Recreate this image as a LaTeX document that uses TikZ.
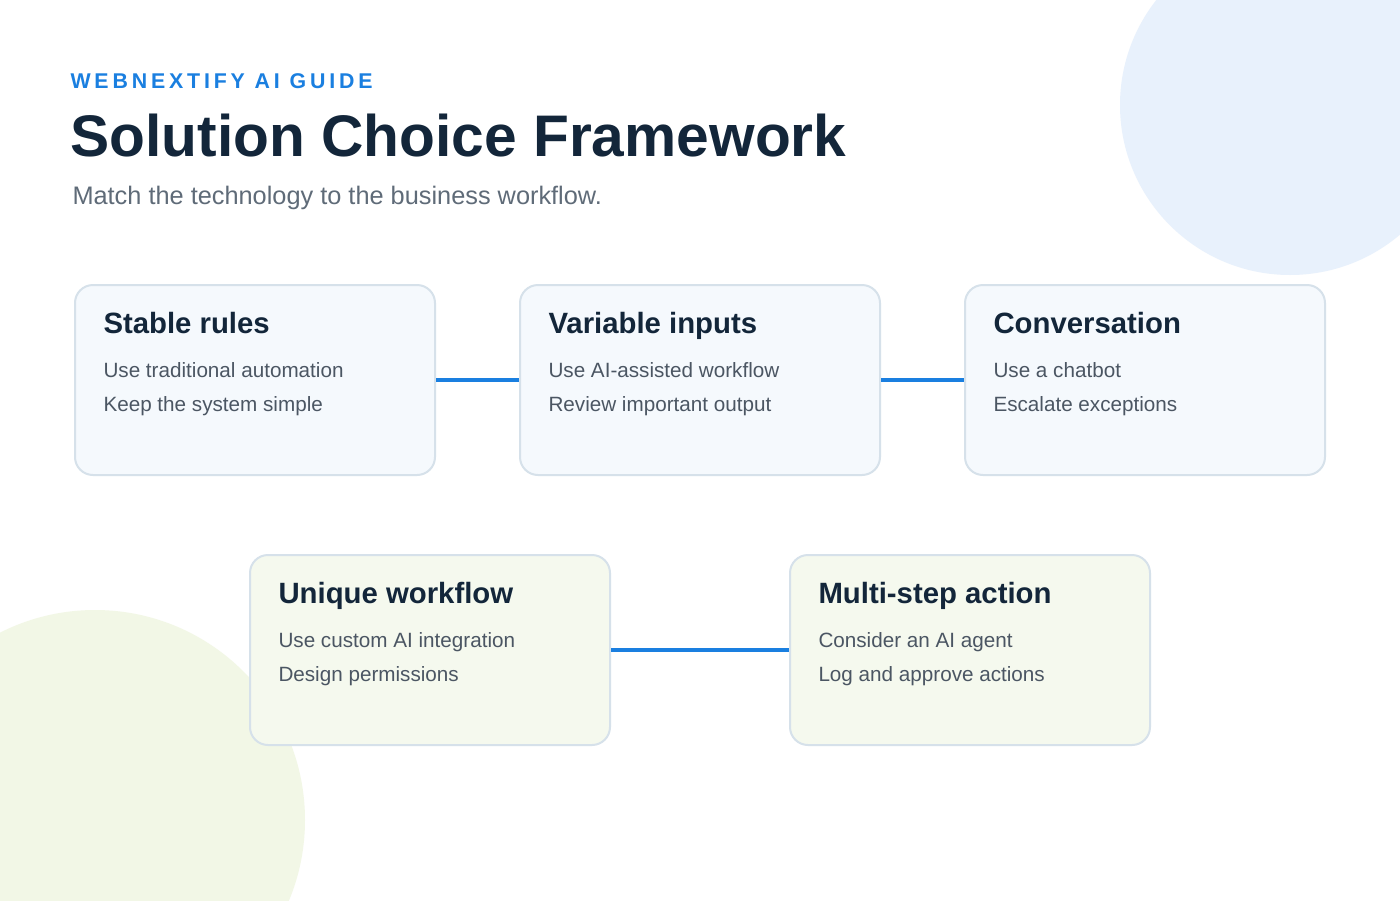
\documentclass[tikz,border=0pt]{standalone}
\usepackage{fontspec}
\setmainfont{Liberation Sans}
\definecolor{inkdark}{HTML}{13263A}
\definecolor{inkgray}{HTML}{4B5663}
\definecolor{subgray}{HTML}{5F6B78}
\definecolor{accent}{HTML}{1A7FE0}
\definecolor{bluefill}{HTML}{F5F9FD}
\definecolor{greenfill}{HTML}{F5F9EE}
\definecolor{boxline}{HTML}{D6E1EA}
\definecolor{blobblue}{HTML}{E8F1FC}
\definecolor{blobgreen}{HTML}{F2F7E6}
\tikzset{every picture/.style={line width=0.75pt}}
\tikzset{
  card/.style={draw=boxline, line width=1.5pt, rounded corners=13.5pt,
    minimum width=270pt, minimum height=142.5pt, inner sep=0pt},
  cardtitle/.style={anchor=base west, inner sep=0pt, text=inkdark,
    font=\fontsize{22}{26}\selectfont\bfseries},
  cardtext/.style={anchor=base west, inner sep=0pt, text=inkgray,
    font=\fontsize{15.5}{18}\selectfont},
  link/.style={draw=accent, line width=3pt}
}
\begin{document}
\begin{tikzpicture}[x=0.75pt,y=0.75pt,yscale=-1,xscale=1]
\useasboundingbox (0,0) rectangle (1400,900);
\fill[white] (0,0) rectangle (1400,900);

%Background blobs
\begin{scope}
\clip (0,0) rectangle (1400,900);
\fill[blobblue] (1290,105) circle (170);
\fill[blobgreen] (95,820) circle (210);
\end{scope}

% Heading
\node[anchor=base west, inner sep=0pt, text=accent] (kicker) at (70,88)
  {\fontsize{16}{19}\selectfont\bfseries\addfontfeature{LetterSpace=18}WEBNEXTIFY AI GUIDE};
\node[anchor=base west, inner sep=0pt, text=inkdark] (title) at (70,156)
  {\fontsize{44}{50}\selectfont\bfseries Solution Choice Framework};
\node[anchor=base west, inner sep=0pt, text=subgray] (subtitle) at (72,204)
  {\fontsize{19}{22}\selectfont Match the technology to the business workflow.};

% Cards
\node[card, fill=bluefill]  (stable)  at (255,380) {};
\node[card, fill=bluefill]  (variable) at (700,380) {};
\node[card, fill=bluefill]  (convo)   at (1145,380) {};
\node[card, fill=greenfill] (unique)  at (430,650) {};
\node[card, fill=greenfill] (multi)   at (970,650) {};

% Connectors
\draw[link] (stable.east) -- (variable.west);
\draw[link] (variable.east) -- (convo.west);
\draw[link] (unique.east) -- (multi.west);

% Card texts
\node[cardtitle] (stableT) at (103,333) {Stable rules};
\node[cardtext]  (stableA) at (103,377) {Use traditional automation};
\node[cardtext]  (stableB) at (103,411) {Keep the system simple};
\node[cardtitle] (variableT) at (548,333) {Variable inputs};
\node[cardtext]  (variableA) at (548,377) {Use AI-assisted workflow};
\node[cardtext]  (variableB) at (548,411) {Review important output};
\node[cardtitle] (convoT) at (993,333) {Conversation};
\node[cardtext]  (convoA) at (993,377) {Use a chatbot};
\node[cardtext]  (convoB) at (993,411) {Escalate exceptions};
\node[cardtitle] (uniqueT) at (278,603) {Unique workflow};
\node[cardtext]  (uniqueA) at (278,647) {Use custom AI integration};
\node[cardtext]  (uniqueB) at (278,681) {Design permissions};
\node[cardtitle] (multiT) at (818,603) {Multi-step action};
\node[cardtext]  (multiA) at (818,647) {Consider an AI agent};
\node[cardtext]  (multiB) at (818,681) {Log and approve actions};

\end{tikzpicture}
\end{document}
